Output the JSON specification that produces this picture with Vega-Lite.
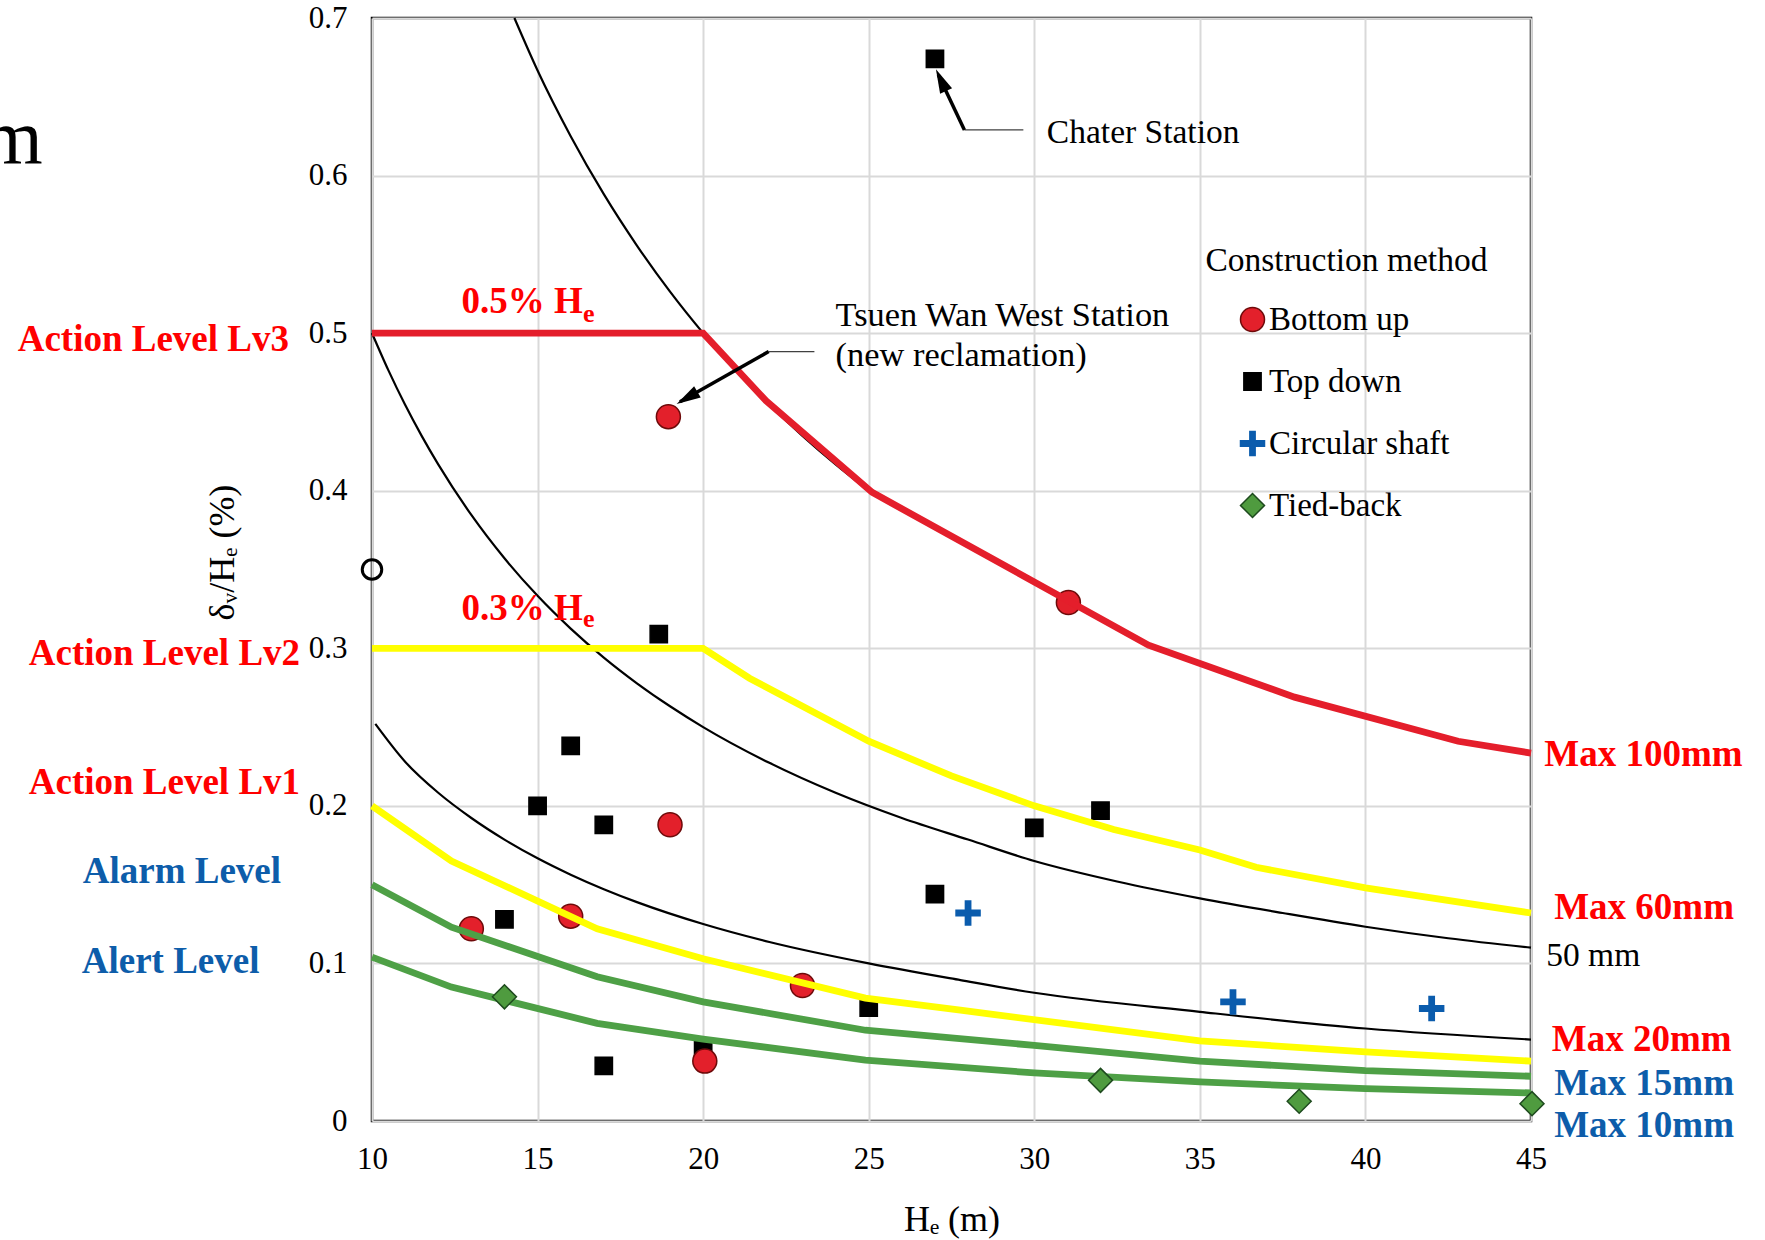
{
  "$schema": "https://vega.github.io/schema/vega-lite/v6.json",
  "width": 1159,
  "height": 1103,
  "autosize": {"type": "none"},
  "padding": {"left": 372, "top": 18, "right": 234, "bottom": 119},
  "background": "white",
  "config": {
    "font": "Liberation Serif",
    "view": {"stroke": "black", "strokeWidth": 2.5},
    "legend": {
      "orient": "none",
      "legendX": 864,
      "legendY": 285,
      "padding": 0,
      "labelFont": "Liberation Serif",
      "labelFontSize": 33,
      "labelColor": "black",
      "labelOffset": 0,
      "symbolSize": 576,
      "symbolStrokeWidth": 1.5,
      "rowPadding": 28,
      "labelLimit": 400
    }
  },
  "datasets": {
    "curves": [
      {"He": 14.3, "ratio": 0.7, "curve": "100"},
      {"He": 15, "ratio": 0.6667, "curve": "100"},
      {"He": 16, "ratio": 0.625, "curve": "100"},
      {"He": 17, "ratio": 0.5882, "curve": "100"},
      {"He": 18, "ratio": 0.5556, "curve": "100"},
      {"He": 19, "ratio": 0.5263, "curve": "100"},
      {"He": 20, "ratio": 0.5, "curve": "100"},
      {"He": 21, "ratio": 0.4762, "curve": "100"},
      {"He": 22, "ratio": 0.4545, "curve": "100"},
      {"He": 23, "ratio": 0.4348, "curve": "100"},
      {"He": 24, "ratio": 0.4167, "curve": "100"},
      {"He": 25, "ratio": 0.4, "curve": "100"},
      {"He": 10, "ratio": 0.5, "curve": "50"},
      {"He": 10.5, "ratio": 0.4762, "curve": "50"},
      {"He": 11, "ratio": 0.4545, "curve": "50"},
      {"He": 11.5, "ratio": 0.4348, "curve": "50"},
      {"He": 12, "ratio": 0.4167, "curve": "50"},
      {"He": 13, "ratio": 0.3846, "curve": "50"},
      {"He": 14, "ratio": 0.3571, "curve": "50"},
      {"He": 15, "ratio": 0.3333, "curve": "50"},
      {"He": 16, "ratio": 0.3125, "curve": "50"},
      {"He": 17, "ratio": 0.2941, "curve": "50"},
      {"He": 18, "ratio": 0.2778, "curve": "50"},
      {"He": 19, "ratio": 0.2632, "curve": "50"},
      {"He": 20, "ratio": 0.25, "curve": "50"},
      {"He": 22, "ratio": 0.2273, "curve": "50"},
      {"He": 24, "ratio": 0.2083, "curve": "50"},
      {"He": 26, "ratio": 0.1923, "curve": "50"},
      {"He": 28, "ratio": 0.1786, "curve": "50"},
      {"He": 30, "ratio": 0.165, "curve": "50"},
      {"He": 32.5, "ratio": 0.152, "curve": "50"},
      {"He": 35, "ratio": 0.1413, "curve": "50"},
      {"He": 37.5, "ratio": 0.132, "curve": "50"},
      {"He": 40, "ratio": 0.1233, "curve": "50"},
      {"He": 42.5, "ratio": 0.116, "curve": "50"},
      {"He": 45, "ratio": 0.11, "curve": "50"},
      {"He": 10.1, "ratio": 0.252, "curve": "25"},
      {"He": 11, "ratio": 0.228, "curve": "25"},
      {"He": 12, "ratio": 0.2083, "curve": "25"},
      {"He": 13, "ratio": 0.1923, "curve": "25"},
      {"He": 14, "ratio": 0.1786, "curve": "25"},
      {"He": 15, "ratio": 0.1667, "curve": "25"},
      {"He": 16, "ratio": 0.1563, "curve": "25"},
      {"He": 17, "ratio": 0.1471, "curve": "25"},
      {"He": 18, "ratio": 0.1389, "curve": "25"},
      {"He": 20, "ratio": 0.125, "curve": "25"},
      {"He": 22, "ratio": 0.1136, "curve": "25"},
      {"He": 25, "ratio": 0.1, "curve": "25"},
      {"He": 27.77, "ratio": 0.0894, "curve": "25"},
      {"He": 30, "ratio": 0.0814, "curve": "25"},
      {"He": 35, "ratio": 0.0693, "curve": "25"},
      {"He": 40, "ratio": 0.0587, "curve": "25"},
      {"He": 45, "ratio": 0.0517, "curve": "25"}
    ],
    "limits": [
      {"He": 10, "ratio": 0.5, "limit": "Max 100mm"},
      {"He": 20, "ratio": 0.5, "limit": "Max 100mm"},
      {"He": 21.9, "ratio": 0.457, "limit": "Max 100mm"},
      {"He": 25.1, "ratio": 0.399, "limit": "Max 100mm"},
      {"He": 33.45, "ratio": 0.302, "limit": "Max 100mm"},
      {"He": 37.86, "ratio": 0.269, "limit": "Max 100mm"},
      {"He": 42.8, "ratio": 0.241, "limit": "Max 100mm"},
      {"He": 45, "ratio": 0.2335, "limit": "Max 100mm"},
      {"He": 10, "ratio": 0.3, "limit": "Max 60mm"},
      {"He": 20, "ratio": 0.3, "limit": "Max 60mm"},
      {"He": 21.4, "ratio": 0.281, "limit": "Max 60mm"},
      {"He": 25, "ratio": 0.241, "limit": "Max 60mm"},
      {"He": 27.5, "ratio": 0.219, "limit": "Max 60mm"},
      {"He": 30, "ratio": 0.2, "limit": "Max 60mm"},
      {"He": 32.4, "ratio": 0.185, "limit": "Max 60mm"},
      {"He": 35, "ratio": 0.172, "limit": "Max 60mm"},
      {"He": 36.7, "ratio": 0.161, "limit": "Max 60mm"},
      {"He": 40, "ratio": 0.148, "limit": "Max 60mm"},
      {"He": 45, "ratio": 0.132, "limit": "Max 60mm"},
      {"He": 10, "ratio": 0.2, "limit": "Max 20mm"},
      {"He": 12.4, "ratio": 0.165, "limit": "Max 20mm"},
      {"He": 16.8, "ratio": 0.122, "limit": "Max 20mm"},
      {"He": 20, "ratio": 0.103, "limit": "Max 20mm"},
      {"He": 24.9, "ratio": 0.078, "limit": "Max 20mm"},
      {"He": 27.77, "ratio": 0.0703, "limit": "Max 20mm"},
      {"He": 35, "ratio": 0.0508, "limit": "Max 20mm"},
      {"He": 40, "ratio": 0.0439, "limit": "Max 20mm"},
      {"He": 45, "ratio": 0.038, "limit": "Max 20mm"},
      {"He": 10, "ratio": 0.15, "limit": "Max 15mm"},
      {"He": 12.4, "ratio": 0.123, "limit": "Max 15mm"},
      {"He": 16.8, "ratio": 0.0915, "limit": "Max 15mm"},
      {"He": 20, "ratio": 0.0756, "limit": "Max 15mm"},
      {"He": 24.9, "ratio": 0.0576, "limit": "Max 15mm"},
      {"He": 30, "ratio": 0.048, "limit": "Max 15mm"},
      {"He": 35, "ratio": 0.038, "limit": "Max 15mm"},
      {"He": 40, "ratio": 0.032, "limit": "Max 15mm"},
      {"He": 45, "ratio": 0.0284, "limit": "Max 15mm"},
      {"He": 10, "ratio": 0.104, "limit": "Max 10mm"},
      {"He": 12.4, "ratio": 0.085, "limit": "Max 10mm"},
      {"He": 16.8, "ratio": 0.062, "limit": "Max 10mm"},
      {"He": 20, "ratio": 0.052, "limit": "Max 10mm"},
      {"He": 24.9, "ratio": 0.0386, "limit": "Max 10mm"},
      {"He": 30, "ratio": 0.0305, "limit": "Max 10mm"},
      {"He": 35, "ratio": 0.0248, "limit": "Max 10mm"},
      {"He": 40, "ratio": 0.0205, "limit": "Max 10mm"},
      {"He": 45, "ratio": 0.0178, "limit": "Max 10mm"}
    ],
    "points": [
      {"He": 27.0, "ratio": 0.674, "method": "Top down"},
      {"He": 18.66, "ratio": 0.309, "method": "Top down"},
      {"He": 16.0, "ratio": 0.238, "method": "Top down"},
      {"He": 15.0, "ratio": 0.2, "method": "Top down"},
      {"He": 17.0, "ratio": 0.188, "method": "Top down"},
      {"He": 14.0, "ratio": 0.128, "method": "Top down"},
      {"He": 17.0, "ratio": 0.035, "method": "Top down"},
      {"He": 20.0, "ratio": 0.046, "method": "Top down"},
      {"He": 25.0, "ratio": 0.072, "method": "Top down"},
      {"He": 27.0, "ratio": 0.144, "method": "Top down"},
      {"He": 30.0, "ratio": 0.186, "method": "Top down"},
      {"He": 32.0, "ratio": 0.197, "method": "Top down"},
      {"He": 13.0, "ratio": 0.122, "method": "Bottom up"},
      {"He": 16.0, "ratio": 0.13, "method": "Bottom up"},
      {"He": 18.95, "ratio": 0.447, "method": "Bottom up"},
      {"He": 19.0, "ratio": 0.188, "method": "Bottom up"},
      {"He": 20.05, "ratio": 0.038, "method": "Bottom up"},
      {"He": 23.0, "ratio": 0.086, "method": "Bottom up"},
      {"He": 31.03, "ratio": 0.329, "method": "Bottom up"},
      {"He": 28.0, "ratio": 0.132, "method": "Circular shaft"},
      {"He": 36.0, "ratio": 0.0756, "method": "Circular shaft"},
      {"He": 42.0, "ratio": 0.0714, "method": "Circular shaft"},
      {"He": 14.0, "ratio": 0.0788, "method": "Tied-back"},
      {"He": 32.0, "ratio": 0.0258, "method": "Tied-back"},
      {"He": 38.0, "ratio": 0.0125, "method": "Tied-back"},
      {"He": 45.03, "ratio": 0.011, "method": "Tied-back"}
    ],
    "openPoint": [{"He": 10, "ratio": 0.35}],
    "thinLeaders": [
      {"He": 27.89, "ratio": 0.629, "He2": 29.67, "ratio2": 0.629},
      {"He": 21.98, "ratio": 0.4883, "He2": 23.36, "ratio2": 0.4883}
    ],
    "thickLeaders": [
      {"He": 27.89, "ratio": 0.629, "He2": 27.1, "ratio2": 0.664},
      {"He": 21.98, "ratio": 0.4883, "He2": 19.3, "ratio2": 0.4565}
    ],
    "arrowTips": [
      {"He": 27.03, "ratio": 0.6675, "name": "Chater"},
      {"He": 19.2, "ratio": 0.4551, "name": "Tsuen Wan"}
    ],
    "notes": [
      {"He": 30.38, "ratio": 0.627, "label": "Chater Station"},
      {"He": 35.17, "ratio": 0.5457, "label": "Construction method"},
      {"He": 45.46, "ratio": 0.105, "label": "50 mm"}
    ],
    "tsuenNotes": [
      {"He": 24.0, "ratio": 0.5107, "label": "Tsuen Wan West Station"},
      {"He": 24.0, "ratio": 0.4857, "label": "(new reclamation)"}
    ],
    "redLabels": [
      {"He": -0.7, "ratio": 0.4957, "label": "Action Level Lv3"},
      {"He": -0.365, "ratio": 0.2964, "label": "Action Level Lv2"},
      {"He": -0.365, "ratio": 0.2143, "label": "Action Level Lv1"},
      {"He": 45.4, "ratio": 0.2322, "label": "Max 100mm"},
      {"He": 45.7, "ratio": 0.135, "label": "Max 60mm"},
      {"He": 45.63, "ratio": 0.0515, "label": "Max 20mm"}
    ],
    "blueLabels": [
      {"He": 1.264, "ratio": 0.1579, "label": "Alarm Level"},
      {"He": 1.234, "ratio": 0.1007, "label": "Alert Level"},
      {"He": 45.7, "ratio": 0.0236, "label": "Max 15mm"},
      {"He": 45.7, "ratio": -0.0029, "label": "Max 10mm"}
    ],
    "percentLabels": [
      {"He": 12.7, "ratio": 0.5126, "label": "0.5% H"},
      {"He": 12.7, "ratio": 0.318, "label": "0.3% H"}
    ],
    "percentSubs": [
      {"He": 16.37, "ratio": 0.5073, "label": "e"},
      {"He": 16.37, "ratio": 0.3133, "label": "e"}
    ],
    "bigText": [{"He": 0.057, "ratio": 0.608, "label": "m"}]
  },
  "encoding": {
    "x": {
      "field": "He",
      "type": "quantitative",
      "scale": {"domain": [10, 45], "nice": false, "zero": false},
      "axis": {
        "values": [10, 15, 20, 25, 30, 35, 40, 45],
        "title": "Hₑ (m)",
        "titleFont": "Liberation Serif",
        "titleFontSize": 36,
        "titleFontWeight": "normal",
        "titleColor": "black",
        "titleBaseline": "alphabetic",
        "titleY": 109,
        "labelFont": "Liberation Serif",
        "labelFontSize": 31,
        "labelColor": "black",
        "labelPadding": 23,
        "ticks": false,
        "tickSize": 0,
        "domain": false,
        "grid": true,
        "gridColor": "#d9d9d9",
        "gridWidth": 2,
        "labelFlush": false
      }
    },
    "y": {
      "field": "ratio",
      "type": "quantitative",
      "scale": {"domain": [0, 0.7], "nice": false},
      "axis": {
        "values": [0, 0.1, 0.2, 0.3, 0.4, 0.5, 0.6, 0.7],
        "format": ".1~f",
        "title": "δᵥ/Hₑ (%)",
        "titleFont": "Liberation Serif",
        "titleFontSize": 36,
        "titleFontWeight": "normal",
        "titleColor": "black",
        "titleBaseline": "alphabetic",
        "titleAngle": 270,
        "titleX": -139,
        "titleY": 534,
        "labelFont": "Liberation Serif",
        "labelFontSize": 31,
        "labelColor": "black",
        "labelPadding": 25,
        "ticks": false,
        "tickSize": 0,
        "domain": false,
        "grid": true,
        "gridColor": "#d9d9d9",
        "gridWidth": 2,
        "labelFlush": false
      }
    }
  },
  "layer": [
    {
      "data": {"name": "curves"},
      "mark": {"type": "line", "color": "black", "strokeWidth": 2.2, "interpolate": "monotone"},
      "encoding": {"detail": {"field": "curve", "type": "nominal"}}
    },
    {
      "data": {"name": "points"},
      "transform": [{"filter": "datum.method === 'Top down' || datum.method === 'Bottom up'"}],
      "mark": {"type": "point", "filled": true, "size": 576, "strokeWidth": 1.5, "opacity": 1},
      "encoding": {
        "fill": {"field": "method", "type": "nominal", "title": null,
          "scale": {"domain": ["Bottom up", "Top down", "Circular shaft", "Tied-back"], "range": ["#E3202B", "#000000", "#0B5CAD", "#4F9B3F"]}},
        "stroke": {"field": "method", "type": "nominal", "title": null,
          "scale": {"domain": ["Bottom up", "Top down", "Circular shaft", "Tied-back"], "range": ["#6E0A0A", "#000000", "#0B5CAD", "#1E4A1E"]}},
        "shape": {"field": "method", "type": "nominal", "title": null,
          "scale": {"domain": ["Bottom up", "Top down", "Circular shaft", "Tied-back"], "range": ["circle", "M-0.72,-0.72H0.72V0.72H-0.72Z", "M-1,-0.22H-0.22V-1H0.22V-0.22H1V0.22H0.22V1H-0.22V0.22H-1Z", "diamond"]}}
      }
    },
    {
      "data": {"name": "limits"},
      "mark": {"type": "line", "strokeWidth": 6.8},
      "encoding": {
        "color": {"field": "limit", "type": "nominal", "legend": null,
          "scale": {"domain": ["Max 100mm", "Max 60mm", "Max 20mm", "Max 15mm", "Max 10mm"], "range": ["#E41E2B", "#FFFF00", "#FFFF00", "#4EA046", "#4EA046"]}}
      }
    },
    {
      "data": {"name": "points"},
      "transform": [{"filter": "datum.method === 'Circular shaft' || datum.method === 'Tied-back'"}],
      "mark": {"type": "point", "filled": true, "size": 576, "strokeWidth": 1.5, "opacity": 1},
      "encoding": {
        "fill": {"field": "method", "type": "nominal", "title": null,
          "scale": {"domain": ["Bottom up", "Top down", "Circular shaft", "Tied-back"], "range": ["#E3202B", "#000000", "#0B5CAD", "#4F9B3F"]}},
        "stroke": {"field": "method", "type": "nominal", "title": null,
          "scale": {"domain": ["Bottom up", "Top down", "Circular shaft", "Tied-back"], "range": ["#6E0A0A", "#000000", "#0B5CAD", "#1E4A1E"]}},
        "shape": {"field": "method", "type": "nominal", "title": null,
          "scale": {"domain": ["Bottom up", "Top down", "Circular shaft", "Tied-back"], "range": ["circle", "M-0.72,-0.72H0.72V0.72H-0.72Z", "M-1,-0.22H-0.22V-1H0.22V-0.22H1V0.22H0.22V1H-0.22V0.22H-1Z", "diamond"]}}
      }
    },
    {
      "data": {"name": "openPoint"},
      "mark": {"type": "point", "shape": "circle", "filled": false, "stroke": "black", "strokeWidth": 3, "size": 380, "opacity": 1}
    },
    {
      "data": {"name": "thinLeaders"},
      "mark": {"type": "rule", "color": "#404040", "strokeWidth": 1.3},
      "encoding": {"x2": {"field": "He2"}, "y2": {"field": "ratio2"}}
    },
    {
      "data": {"name": "thickLeaders"},
      "mark": {"type": "rule", "color": "black", "strokeWidth": 3.5},
      "encoding": {"x2": {"field": "He2"}, "y2": {"field": "ratio2"}}
    },
    {
      "data": {"name": "arrowTips"},
      "transform": [{"filter": "datum.name === 'Chater'"}],
      "mark": {"type": "point", "shape": "M0,0L0.55,2L-0.55,2Z", "size": 576, "filled": true, "color": "black", "angle": 335, "opacity": 1}
    },
    {
      "data": {"name": "arrowTips"},
      "transform": [{"filter": "datum.name === 'Tsuen Wan'"}],
      "mark": {"type": "point", "shape": "M0,0L0.55,2L-0.55,2Z", "size": 576, "filled": true, "color": "black", "angle": 240, "opacity": 1}
    },
    {
      "data": {"name": "notes"},
      "mark": {"type": "text", "align": "left", "baseline": "middle", "font": "Liberation Serif", "fontSize": 33.5, "color": "black"},
      "encoding": {"text": {"field": "label"}}
    },
    {
      "data": {"name": "tsuenNotes"},
      "mark": {"type": "text", "align": "left", "baseline": "middle", "font": "Liberation Serif", "fontSize": 34.4, "color": "black"},
      "encoding": {"text": {"field": "label"}}
    },
    {
      "data": {"name": "redLabels"},
      "mark": {"type": "text", "align": "left", "baseline": "middle", "font": "Liberation Serif", "fontSize": 37, "fontWeight": "bold", "color": "#FF0000"},
      "encoding": {"text": {"field": "label"}}
    },
    {
      "data": {"name": "blueLabels"},
      "mark": {"type": "text", "align": "left", "baseline": "middle", "font": "Liberation Serif", "fontSize": 37, "fontWeight": "bold", "color": "#0D5DAA"},
      "encoding": {"text": {"field": "label"}}
    },
    {
      "data": {"name": "percentLabels"},
      "mark": {"type": "text", "align": "left", "baseline": "alphabetic", "font": "Liberation Serif", "fontSize": 37, "fontWeight": "bold", "color": "#FF0000"},
      "encoding": {"text": {"field": "label"}}
    },
    {
      "data": {"name": "percentSubs"},
      "mark": {"type": "text", "align": "left", "baseline": "alphabetic", "font": "Liberation Serif", "fontSize": 26, "fontWeight": "bold", "color": "#FF0000"},
      "encoding": {"text": {"field": "label"}}
    },
    {
      "data": {"name": "bigText"},
      "mark": {"type": "text", "align": "right", "baseline": "alphabetic", "font": "Liberation Serif", "fontSize": 78, "color": "black"},
      "encoding": {"text": {"field": "label"}}
    }
  ]
}
